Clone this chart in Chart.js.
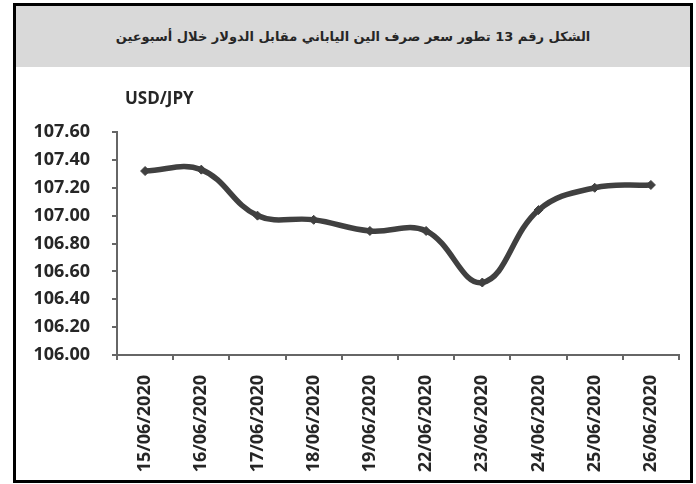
<!DOCTYPE html>
<html>
<head>
<meta charset="utf-8">
<script src="https://cdn.jsdelivr.net/npm/chart.js@4/dist/chart.umd.min.js"></script>
<style>
    body { margin: 0; background: #fff; }
    #frame {
        position: absolute; left: 13px; top: 3px;
        width: 674px; height: 474px;
        border: 3px solid #000; background: #fff;
    }
    #title {
        height: 61px; background: #d9d9d9;
        font-family: "DejaVu Sans", sans-serif; font-weight: bold; font-size: 13px;
        color: #262626; text-align: center; line-height: 61px;
    }
    #box { position: relative; width: 674px; height: 413px; }
</style>
</head>
<body>
<div id="frame">
    <div id="title" dir="rtl">الشكل رقم 13 تطور سعر صرف الين الياباني مقابل الدولار خلال أسبوعين</div>
    <div id="box"><canvas id="fxChart"></canvas></div>
</div>
<script>
// Data
const dates = ['15/06/2020', '16/06/2020', '17/06/2020', '18/06/2020', '19/06/2020',
               '22/06/2020', '23/06/2020', '24/06/2020', '25/06/2020', '26/06/2020'];
const usdJpy = [107.32, 107.33, 107.00, 106.97, 106.89, 106.89, 106.52, 107.04, 107.20, 107.22];
const seriesLabel = 'USD/JPY';

// Draws the "USD/JPY" caption above the y axis
const captionPlugin = {
    id: 'caption',
    afterDraw(chart) {
        const ctx = chart.ctx;
        ctx.save();
        ctx.font = 'bold 17px "Open Sans"';
        ctx.fillStyle = '#262626';
        ctx.textBaseline = 'middle';
        ctx.fillText(seriesLabel, chart.chartArea.left + 8, 32);
        ctx.restore();
    }
};

const ctx = document.getElementById('fxChart').getContext('2d');
new Chart(ctx, {
    type: 'line',
    data: {
        labels: dates,
        datasets: [
            {
                label: seriesLabel,
                data: usdJpy,
                borderColor: '#404040',
                backgroundColor: '#404040',
                borderWidth: 5.5,
                tension: 0.4,
                fill: false,
                pointStyle: 'rectRot',
                pointRadius: 4.5,
                pointBorderWidth: 1
            }
        ]
    },
    options: {
        responsive: true,
        maintainAspectRatio: false,
        animation: false,
        layout: { padding: { top: 65, right: 11, left: 0, bottom: 0 } },
        plugins: {
            legend: { display: false },
            tooltip: { enabled: false }
        },
        scales: {
            x: {
                offset: true,
                afterFit: (scale) => { scale.height = 125; },
                grid: { offset: true, drawOnChartArea: false, tickLength: 5, color: '#666', lineWidth: 2 },
                border: { color: '#666', width: 2 },
                ticks: {
                    minRotation: 90, maxRotation: 90, padding: 15,
                    color: '#262626',
                    font: { family: '"Open Sans"', size: 18, weight: 'bold' }
                }
            },
            y: {
                min: 106,
                max: 107.6,
                afterFit: (scale) => { scale.width = 101; },
                grid: { drawOnChartArea: false, tickLength: 5, color: '#666', lineWidth: 2 },
                border: { color: '#666', width: 2 },
                ticks: {
                    stepSize: 0.2, padding: 22,
                    color: '#262626',
                    font: { family: '"Open Sans"', size: 18, weight: 'bold' },
                    callback: (v) => v.toFixed(2)
                }
            }
        }
    },
    plugins: [captionPlugin]
});
</script>
</body>
</html>
